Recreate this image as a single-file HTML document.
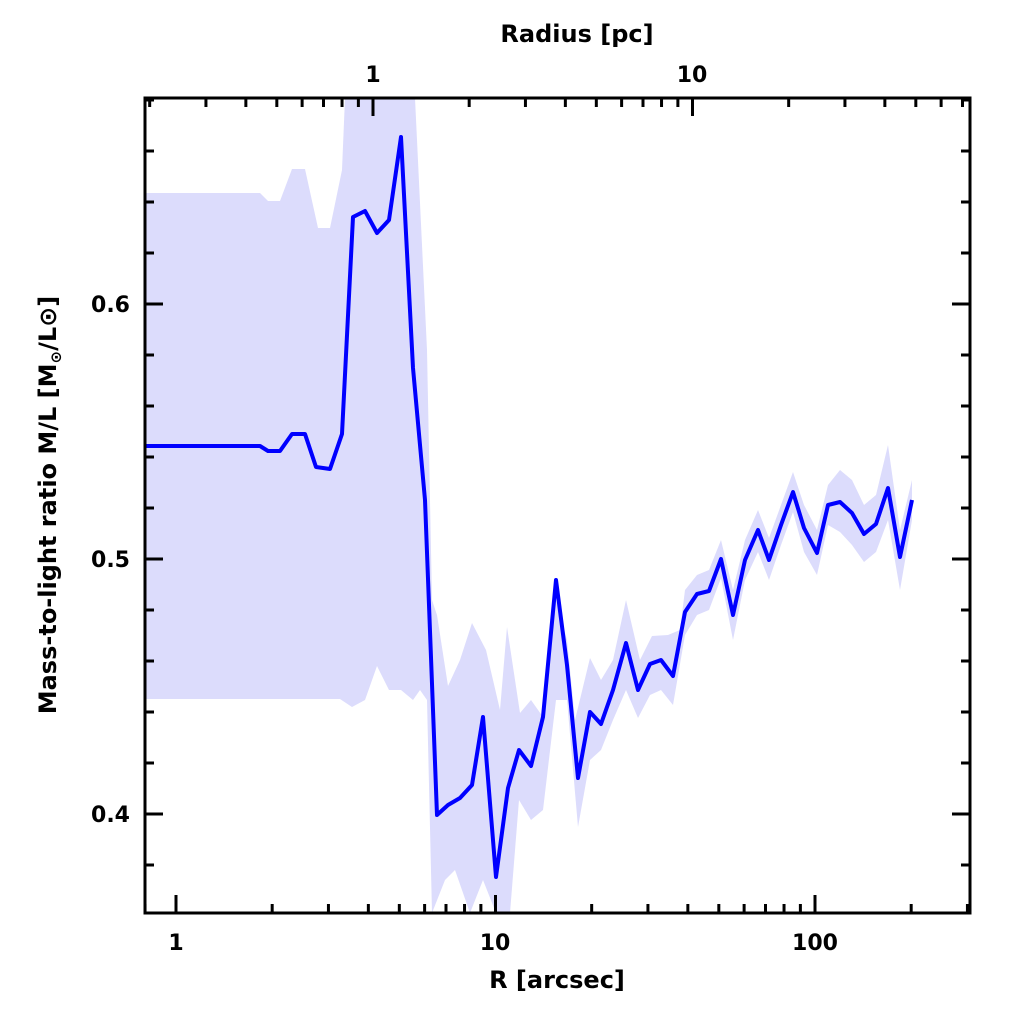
<!DOCTYPE html>
<html><head><meta charset="utf-8"><style>body{margin:0;background:#fff}svg{display:block}text{font-family:"DejaVu Sans","Liberation Sans",sans-serif;font-weight:bold;fill:#000}</style></head>
<body>
<svg id="s" width="1024" height="1024" viewBox="0 0 1024 1024">
<polygon fill="#dcdcfc" points="145,193 260,193 268,201 280,201 292,169 305,169 318,228 330,228 342,170 345,98 415,98 427,350 432,600 437,615 448,686 460,660 472,623 486,650 500,710 507,627 520,713 531,700 543,717 556,600 567,640 575,720 590,658 601,680 613,660 626,600 640,660 652,636 668,635 680,630 685,590 697,575 709,570 721,540 733,590 745,540 758,510 769,538 781,505 793,472 804,505 817,530 828,485 840,470 852,480 864,505 876,495 888,445 900,530 912,480 912,520 900,590 888,520 876,552 864,562 852,545 840,532 828,525 817,575 804,552 793,512 781,545 769,580 758,552 745,580 733,640 721,578 709,610 697,615 685,635 673,705 661,690 650,695 638,718 626,690 613,720 601,750 590,760 578,827 567,700 556,700 543,810 531,820 519,800 510,913 496,913 483,880 470,913 455,870 445,880 432,913 427,700 420,690 413,700 401,690 389,690 377,666 365,700 352,707 340,699 145,699"/>
<polyline fill="none" stroke="#0000ff" stroke-width="4" stroke-linejoin="round" points="145,446 260,446 268,451 280,451 292,434 305,434 316,467 330,469 342,434 353,217 365,211 377,233 389,220 401,137 413,368 425,500 437,815 448,805 460,798 472,785 483,717 496,877 508,788 519,750 531,766 543,717 556,580 567,665 578,778 590,712 601,724 613,690 626,643 638,690 650,664 661,660 673,676 685,612 697,594 709,591 721,559 733,615 745,560 758,530 769,560 781,525 793,492 804,528 817,553 828,505 840,502 852,513 864,534 876,524 888,488 900,557 912,500"/>
<g id="t" stroke="#000" stroke-width="3"></g>
<rect x="145" y="98" width="825" height="815" fill="none" stroke="#000" stroke-width="3"/>
<text x="176" y="950" font-size="22" text-anchor="middle">1</text>
<text x="495" y="950" font-size="22" text-anchor="middle">10</text>
<text x="815" y="950" font-size="22" text-anchor="middle">100</text>
<text x="557" y="988" font-size="24" text-anchor="middle">R [arcsec]</text>
<text x="373" y="82" font-size="22" text-anchor="middle">1</text>
<text x="692" y="82" font-size="22" text-anchor="middle">10</text>
<text x="577" y="42" font-size="24" text-anchor="middle">Radius [pc]</text>
<text x="130" y="312" font-size="22" text-anchor="end">0.6</text>
<text x="130" y="567" font-size="22" text-anchor="end">0.5</text>
<text x="130" y="822" font-size="22" text-anchor="end">0.4</text>
<text transform="translate(56,505) rotate(-90)" font-size="24" text-anchor="middle">Mass-to-light ratio M/L [M<tspan font-size="15" dy="5">⊙</tspan><tspan dy="-5">/L⊙]</tspan></text>
</svg>
<script>
var g=document.getElementById('t'),h='';
function L(a,b,c,d){h+='<line x1="'+a+'" y1="'+b+'" x2="'+c+'" y2="'+d+'"/>';}
var D=319.5;
for(var dec=0;dec<3;dec++)for(var k=1;k<10;k++){var x=176+D*(dec+Math.log10(k));if(x<146||x>969)continue;var l=k==1?18:9;L(x,913,x,913-l);}
L(176-D*Math.log10(1/0.8),913,176-D*Math.log10(1/0.8),904);
for(var dec=-1;dec<2;dec++)for(var k=1;k<10;k++){var x=373+D*(dec+Math.log10(k));if(x<146||x>969)continue;var l=(k==1)?18:9;L(x,98,x,98+l);}
for(var i=36;i<=68;i+=2){var y=559-(i/100-0.5)*2550;if(y<99||y>912)continue;var l=(i%10==0)?18:9;L(145,y,145+l,y);L(970,y,970-l,y);}
g.innerHTML=h;
</script>
</body></html>
